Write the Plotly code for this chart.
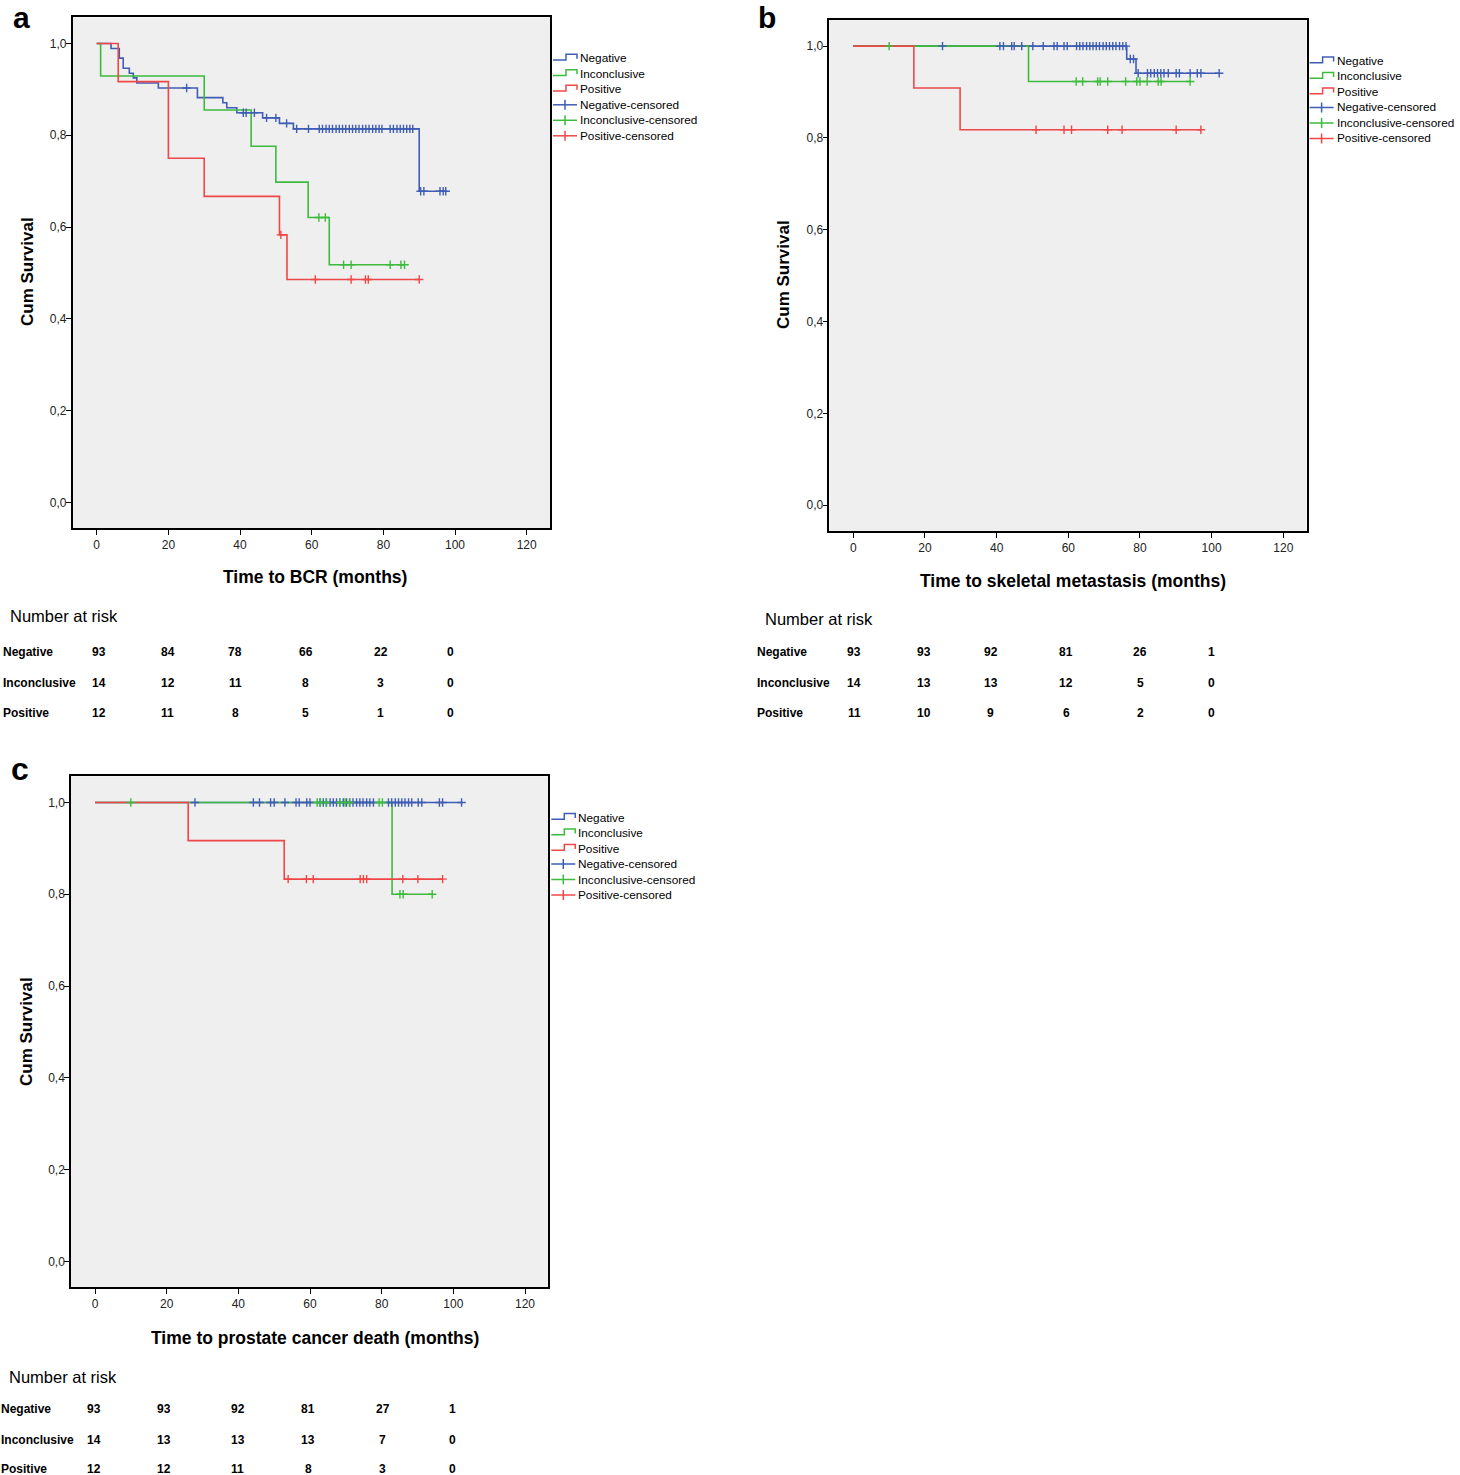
import numpy as np
import plotly.graph_objects as go

FONT = "Liberation Sans, Arial, Helvetica, sans-serif"
W, H = 1460, 1475

GROUPS = ["Negative", "Inconclusive", "Positive"]
COLORS = ["#3F5DB4", "#3DBB3D", "#EF4747"]
LEGEND_LABELS = ["Negative", "Inconclusive", "Positive",
                 "Negative-censored", "Inconclusive-censored", "Positive-censored"]
RISK_TIMES = [0, 20, 40, 60, 80, 100]
X_TICKS = [0, 20, 40, 60, 80, 100, 120]
Y_TICKS = [0.0, 0.2, 0.4, 0.6, 0.8, 1.0]
Y_TICK_TEXT = ["0,0", "0,2", "0,4", "0,6", "0,8", "1,0"]

# ---------------- Panel a: Time to BCR ----------------
a_neg_t = [0, 4.0, 6.3, 7.4, 9.1, 10.2, 11.2, 17.2, 28.1, 35.2, 36.3, 39.1, 46.3, 51.0, 54.9, 90.0]
a_neg_s = [1.0, 0.989, 0.968, 0.946, 0.935, 0.925, 0.914, 0.903, 0.882, 0.871, 0.860, 0.849, 0.838, 0.826, 0.814, 0.678]
a_neg_c = [25.1, 40.9, 41.7, 44.0, 47.4, 50.0, 53.0, 55.8, 59.1, 62.1, 63.0, 64.0, 64.9, 65.8, 66.8,
           67.7, 68.6, 69.5, 70.5, 71.4, 72.3, 73.2, 74.2, 75.1, 76.0, 77.0, 77.9, 78.8, 79.6, 81.9,
           82.8, 83.8, 84.7, 85.6, 86.5, 87.4, 88.2, 90.4, 91.3, 95.8, 96.7, 97.4]
a_inc_t = [0, 1.1, 30.0, 43.1, 50.0, 59.0, 64.9]
a_inc_s = [1.0, 0.929, 0.855, 0.776, 0.698, 0.621, 0.518]
a_inc_c = [62.0, 63.8, 68.9, 71.0, 81.9, 84.9, 85.9]
a_pos_t = [0, 6.0, 20.0, 30.0, 51.0, 53.1]
a_pos_s = [1.0, 0.917, 0.750, 0.667, 0.583, 0.486]
a_pos_c = [51.4, 61.0, 71.0, 75.0, 75.8, 90.0]
a_risk_neg = [93, 84, 78, 66, 22, 0]
a_risk_inc = [14, 12, 11, 8, 3, 0]
a_risk_pos = [12, 11, 8, 5, 1, 0]

# ---------------- Panel b: Time to skeletal metastasis ----------------
b_neg_t = [0, 76.3, 78.9]
b_neg_s = [1.0, 0.972, 0.941]
b_neg_c = [24.9, 40.9, 41.9, 44.2, 44.9, 47.0, 50.1, 53.0, 56.0, 56.9, 58.8, 59.7, 62.3, 63.2, 64.1,
           65.1, 66.0, 66.9, 67.8, 68.7, 69.7, 70.6, 71.5, 72.4, 73.3, 74.3, 75.2, 76.1, 77.3, 78.2,
           79.5, 82.1, 83.0, 84.0, 84.9, 85.8, 86.7, 87.9, 90.1, 91.0, 94.0, 96.0, 97.0, 102.1]
b_inc_t = [0, 48.9]
b_inc_s = [1.0, 0.923]
b_inc_c = [10.0, 62.2, 64.0, 68.2, 68.9, 71.0, 76.0, 79.1, 80.0, 82.0, 85.1, 85.9, 94.0]
b_pos_t = [0, 16.9, 29.8]
b_pos_s = [1.0, 0.909, 0.818]
b_pos_c = [51.0, 58.8, 60.9, 71.0, 75.0, 90.1, 97.0]
b_risk_neg = [93, 93, 92, 81, 26, 1]
b_risk_inc = [14, 13, 13, 12, 5, 0]
b_risk_pos = [11, 10, 9, 6, 2, 0]

# ---------------- Panel c: Time to prostate cancer death ----------------
c_neg_t = [0]
c_neg_s = [1.0]
c_neg_c = [27.9, 44.2, 45.9, 49.0, 50.0, 53.0, 56.1, 57.0, 59.1, 60.0, 62.8, 63.7, 64.6, 65.6, 66.5,
           67.4, 68.3, 69.3, 70.2, 71.1, 72.0, 73.0, 73.9, 74.8, 75.8, 76.7, 77.7, 81.9, 82.8, 83.8,
           84.7, 85.6, 86.5, 87.5, 88.4, 90.2, 91.2, 96.1, 97.0, 102.3]
c_inc_t = [0, 82.9]
c_inc_s = [1.0, 0.800]
c_inc_c = [10.0, 62.0, 62.9, 64.5, 68.3, 69.8, 71.0, 79.3, 80.2, 85.1, 86.0, 94.1]
c_pos_t = [0, 26.0, 52.8]
c_pos_s = [1.0, 0.917, 0.833]
c_pos_c = [53.9, 59.0, 60.9, 74.0, 74.9, 75.8, 85.9, 90.1, 97.0]
c_risk_neg = [93, 93, 92, 81, 27, 1]
c_risk_inc = [14, 13, 13, 13, 7, 0]
c_risk_pos = [12, 12, 11, 8, 3, 0]

X_RANGE = [-6.7, 126.5]
Y_RANGE = [-0.056, 1.057]

panels = [
    dict(label="a", xtitle="Time to BCR (months)",
         curves=[(a_neg_t, a_neg_s, a_neg_c), (a_inc_t, a_inc_s, a_inc_c), (a_pos_t, a_pos_s, a_pos_c)],
         risk=[a_risk_neg, a_risk_inc, a_risk_pos],
         frame=(72.7, 17.3, 550.0, 528.3), lab=(10.5, 17.3, 30), ytitle=(28, 272), xtitle_pos=(315, 577.5),
         nar=(8, 616.5), rows=[651.7, 682.7, 713.0], rowx=0.5,
         cols=[99, 167.5, 235, 305.5, 380.5, 450.5], leg=(553.0, 58.3)),
    dict(label="b", xtitle="Time to skeletal metastasis (months)",
         curves=[(b_neg_t, b_neg_s, b_neg_c), (b_inc_t, b_inc_s, b_inc_c), (b_pos_t, b_pos_s, b_pos_c)],
         risk=[b_risk_neg, b_risk_inc, b_risk_pos],
         frame=(829.3, 20.0, 1306.6, 531.0), lab=(755.5, 17.3, 30), ytitle=(784, 275), xtitle_pos=(1073, 580.5),
         nar=(763, 619.5), rows=[651.7, 682.7, 713.0], rowx=755,
         cols=[854, 923.5, 991, 1066, 1140, 1211.5], leg=(1309.6, 61.0)),
    dict(label="c", xtitle="Time to prostate cancer death (months)",
         curves=[(c_neg_t, c_neg_s, c_neg_c), (c_inc_t, c_inc_s, c_inc_c), (c_pos_t, c_pos_s, c_pos_c)],
         risk=[c_risk_neg, c_risk_inc, c_risk_pos],
         frame=(71.0, 776.3, 548.3, 1287.3), lab=(8.5, 768.5, 32), ytitle=(26, 1032), xtitle_pos=(315, 1337.5),
         nar=(7, 1376.5), rows=[1409.0, 1440.0, 1469.0], rowx=-1.5,
         cols=[94, 164, 237.5, 308, 382.5, 452.5], leg=(551.3, 817.5)),
]


def PX(x):
    return x / W


def PY(y):
    return 1 - y / H


def ann(text, x, y, size, bold=False, xanchor="left", angle=0):
    return dict(text=f"<b>{text}</b>" if bold else text, x=PX(x), y=PY(y), xref="paper", yref="paper",
                xanchor=xanchor, yanchor="middle", showarrow=False, textangle=angle,
                font=dict(family=FONT, size=size, color="black"))


def level(times, surv, t):
    idx = np.searchsorted(np.asarray(times), t, side="right") - 1
    return np.asarray(surv)[idx]


fig = go.Figure()
annotations = []
shapes = []
layout_axes = {}

for i, p in enumerate(panels):
    n = "" if i == 0 else str(i + 1)
    xa, ya = "x" + n, "y" + n
    x0, y0, x1, y1 = p["frame"]
    axis_common = dict(showline=True, linecolor="black", linewidth=1.5, mirror=True, ticks="outside",
                       ticklen=5, tickwidth=1.3, tickcolor="black", showgrid=False, zeroline=False,
                       tickfont=dict(family=FONT, size=12, color="#222"), fixedrange=True)
    layout_axes["xaxis" + n] = dict(axis_common, domain=[PX(x0), PX(x1)], range=X_RANGE, anchor=ya,
                                    tickmode="array", tickvals=X_TICKS)
    layout_axes["yaxis" + n] = dict(axis_common, domain=[PY(y1), PY(y0)], range=Y_RANGE, anchor=xa,
                                    tickmode="array", tickvals=Y_TICKS, ticktext=Y_TICK_TEXT,
                                    ticklabelstandoff=-3)
    # lines
    for (t, s, c), col, g in zip(p["curves"], COLORS, GROUPS):
        end = max(t[-1], max(c))
        fig.add_trace(go.Scatter(x=list(t) + [end], y=list(s) + [s[-1]], mode="lines", line_shape="hv",
                                 line=dict(color=col, width=1.6), xaxis=xa, yaxis=ya, name=g,
                                 showlegend=False, hoverinfo="skip"))
    # censored marks
    for (t, s, c), col, g in zip(p["curves"], COLORS, GROUPS):
        fig.add_trace(go.Scatter(x=c, y=level(t, s, c), mode="markers",
                                 marker=dict(symbol="cross-thin", size=6, line=dict(width=1.4, color=col)),
                                 xaxis=xa, yaxis=ya, name=g + "-censored", showlegend=False, hoverinfo="skip"))
    # panel label and axis titles
    lx, ly, lsz = p["lab"]
    annotations.append(ann(p["label"], lx, ly, lsz, bold=True))
    annotations.append(ann("Cum Survival", p["ytitle"][0], p["ytitle"][1], 17, bold=True,
                           xanchor="center", angle=-90))
    annotations.append(ann(p["xtitle"], p["xtitle_pos"][0], p["xtitle_pos"][1], 17.5, bold=True,
                           xanchor="center"))
    # number at risk table
    annotations.append(ann("Number at risk", p["nar"][0], p["nar"][1], 16.5))
    for g, vals, ry in zip(GROUPS, p["risk"], p["rows"]):
        annotations.append(ann(g, p["rowx"], ry, 12, bold=True))
        for v, cx in zip(vals, p["cols"]):
            annotations.append(ann(str(v), cx, ry, 12, bold=True, xanchor="center"))
    # legend (manual)
    gx, gy = p["leg"]
    step = 15.5
    for k, lab in enumerate(LEGEND_LABELS):
        col = COLORS[k % 3]
        yy = gy + k * step
        if k < 3:
            pts = [(gx, yy + 1.7), (gx + 13, yy + 1.7), (gx + 13, yy - 4), (gx + 24, yy - 4), (gx + 24, yy + 0.5)]
            path = "M " + " L ".join(f"{PX(a):.6f},{PY(b):.6f}" for a, b in pts)
            shapes.append(dict(type="path", xref="paper", yref="paper", path=path,
                               line=dict(color=col, width=1.5)))
        else:
            shapes.append(dict(type="line", xref="paper", yref="paper", x0=PX(gx), x1=PX(gx + 24),
                               y0=PY(yy), y1=PY(yy), line=dict(color=col, width=1.5)))
            shapes.append(dict(type="line", xref="paper", yref="paper", x0=PX(gx + 12), x1=PX(gx + 12),
                               y0=PY(yy - 5), y1=PY(yy + 5), line=dict(color=col, width=1.5)))
        annotations.append(ann(lab, gx + 25, yy, 11.8))

fig.update_layout(
    width=W, height=H, autosize=False,
    margin=dict(l=0, r=0, t=0, b=0),
    paper_bgcolor="white", plot_bgcolor="#EFEFEF",
    showlegend=False,
    font=dict(family=FONT, size=12, color="black"),
    annotations=annotations, shapes=shapes,
    **layout_axes,
)

fig.write_html("out.html", config={"displayModeBar": False},
               post_script="document.body.style.margin='0';document.body.style.overflow='hidden';")
